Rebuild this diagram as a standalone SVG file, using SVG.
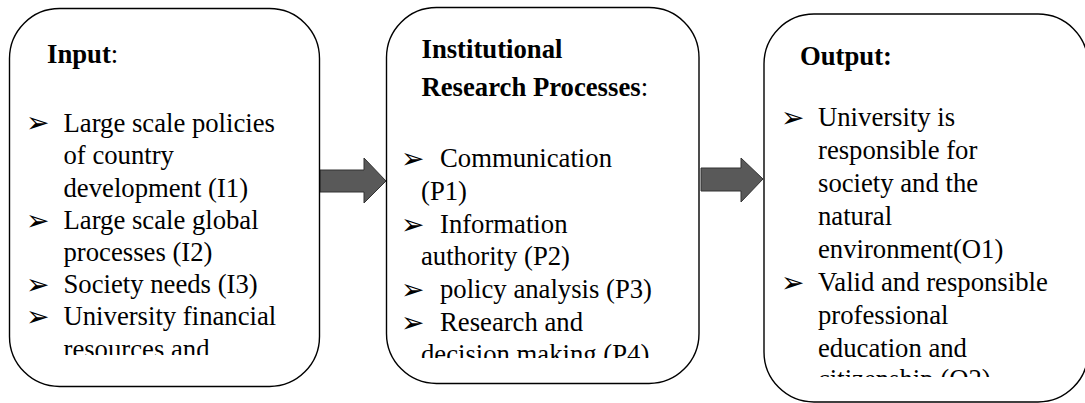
<svg xmlns="http://www.w3.org/2000/svg" width="1085" height="403" viewBox="0 0 1085 403">
  <style>
    .box { fill: #ffffff; stroke: #000000; stroke-width: 1.4; }
    .txt { font-family: "Liberation Serif", "Times New Roman", serif; font-size: 26.7px; fill: #000000; }
    .hd { font-weight: bold; }
    .colon { font-weight: normal; }
    .bul { font-family: "DejaVu Sans", sans-serif; font-size: 28px; fill: #000000; }
    .arrow { fill: #595959; stroke: #333333; stroke-width: 1; }
  </style>
  <defs>
    <clipPath id="clip-input"><rect x="10" y="20" width="308" height="335"/></clipPath>
    <clipPath id="clip-process"><rect x="387" y="20" width="311" height="338"/></clipPath>
    <clipPath id="clip-output"><rect x="765" y="25" width="320" height="352"/></clipPath>
  </defs>
  <rect width="1085" height="403" fill="#ffffff"/>

  <!-- block arrows between the stages -->
  <g id="connectors">
    <polygon class="arrow" points="320,170 364,170 364,158 386,181 364,203 364,192 320,192"/>
    <polygon class="arrow" points="701,168 741,168 741,158 763,179 741,202 741,191 701,191"/>
  </g>

  <!-- input stage -->
  <g id="node-input">
    <rect class="box" x="9.5" y="8.5" width="310" height="378" rx="50" ry="50"/>
    <g clip-path="url(#clip-input)">
      <text class="txt hd" x="47" y="63">Input<tspan class="colon">:</tspan></text>
      <text class="bul" x="26" y="132">➢</text>
      <text class="bul" x="26" y="230">➢</text>
      <text class="bul" x="26" y="294">➢</text>
      <text class="bul" x="26" y="326">➢</text>
      <text class="txt" x="63.5" y="131.5">Large scale policies</text>
      <text class="txt" x="63.5" y="164">of country</text>
      <text class="txt" x="63.5" y="196.5">development (I1)</text>
      <text class="txt" x="63.5" y="229">Large scale global</text>
      <text class="txt" x="63.5" y="261">processes (I2)</text>
      <text class="txt" x="63.5" y="293">Society needs (I3)</text>
      <text class="txt" x="63.5" y="325">University financial</text>
      <text class="txt" x="63.5" y="358">resources and</text>
    </g>
  </g>

  <!-- institutional research stage -->
  <g id="node-process">
    <rect class="box" x="386.5" y="7.5" width="312.5" height="376" rx="50" ry="50"/>
    <g clip-path="url(#clip-process)">
      <text class="txt hd" x="421.5" y="58">Institutional</text>
      <text class="txt hd" x="421.5" y="96">Research Processes<tspan class="colon">:</tspan></text>
      <text class="bul" x="401" y="168">➢</text>
      <text class="bul" x="401" y="234">➢</text>
      <text class="bul" x="401" y="299">➢</text>
      <text class="bul" x="401" y="332">➢</text>
      <text class="txt" x="440" y="167">Communication</text>
      <text class="txt" x="421" y="200">(P1)</text>
      <text class="txt" x="440" y="233">Information</text>
      <text class="txt" x="421" y="265">authority (P2)</text>
      <text class="txt" x="440" y="298">policy analysis (P3)</text>
      <text class="txt" x="440" y="331">Research and</text>
      <text class="txt" x="421" y="363">decision making (P4)</text>
    </g>
  </g>

  <!-- output stage -->
  <g id="node-output">
    <rect class="box" x="764" y="14" width="324" height="388" rx="50" ry="50"/>
    <g clip-path="url(#clip-output)">
      <text class="txt hd" x="800" y="65">Output:</text>
      <text class="bul" x="781" y="127">➢</text>
      <text class="bul" x="781" y="292">➢</text>
      <text class="txt" x="818" y="126">University is</text>
      <text class="txt" x="818" y="159">responsible for</text>
      <text class="txt" x="818" y="192">society and the</text>
      <text class="txt" x="818" y="225">natural</text>
      <text class="txt" x="818" y="258">environment(O1)</text>
      <text class="txt" x="818" y="291">Valid and responsible</text>
      <text class="txt" x="818" y="324">professional</text>
      <text class="txt" x="818" y="357">education and</text>
      <text class="txt" x="818" y="388">citizenship (O2)</text>
    </g>
  </g>
</svg>
